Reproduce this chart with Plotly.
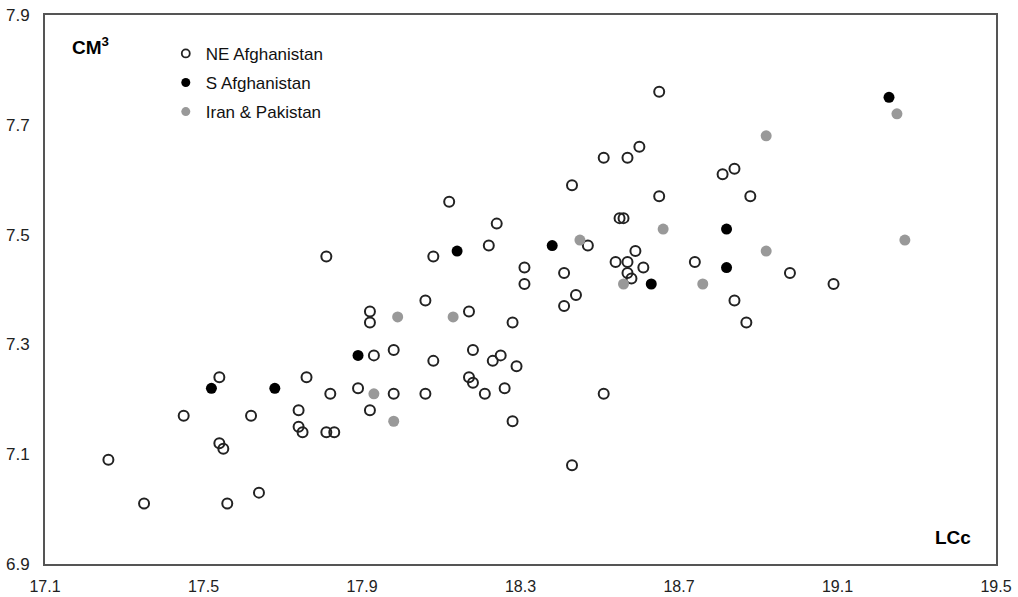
import plotly.graph_objects as go

# NE Afghanistan (open circles)
ne_x = [17.26, 17.35, 17.45, 17.54, 17.55, 17.56, 17.62, 17.64, 17.74, 17.74, 17.75, 17.81, 17.83,
        17.54, 17.76, 17.82, 17.81, 18.12, 18.24, 18.22, 18.08, 18.47, 18.55, 18.56, 18.65,
        18.31, 18.31, 18.41, 18.44, 18.41, 18.59, 18.54, 18.57, 18.61, 18.57, 18.58, 18.06,
        17.92, 17.92, 18.17, 18.28, 17.93, 17.98, 18.08, 18.18, 18.23, 18.25, 18.29, 18.17,
        18.18, 18.21, 18.26, 18.51, 17.89, 17.98, 18.06, 17.92, 18.28, 18.43, 18.65, 18.60,
        18.51, 18.57, 18.81, 18.84, 18.43, 18.88, 18.74, 18.98, 19.09, 18.84, 18.87]
ne_y = [7.09, 7.01, 7.17, 7.12, 7.11, 7.01, 7.17, 7.03, 7.18, 7.15, 7.14, 7.14, 7.14,
        7.24, 7.24, 7.21, 7.46, 7.56, 7.52, 7.48, 7.46, 7.48, 7.53, 7.53, 7.57,
        7.44, 7.41, 7.43, 7.39, 7.37, 7.47, 7.45, 7.45, 7.44, 7.43, 7.42, 7.38,
        7.36, 7.34, 7.36, 7.34, 7.28, 7.29, 7.27, 7.29, 7.27, 7.28, 7.26, 7.24,
        7.23, 7.21, 7.22, 7.21, 7.22, 7.21, 7.21, 7.18, 7.16, 7.08, 7.76, 7.66,
        7.64, 7.64, 7.61, 7.62, 7.59, 7.57, 7.45, 7.43, 7.41, 7.38, 7.34]

# S Afghanistan (black)
s_x = [17.52, 17.68, 17.89, 18.14, 18.38, 18.63, 18.82, 18.82, 19.23]
s_y = [7.22, 7.22, 7.28, 7.47, 7.48, 7.41, 7.51, 7.44, 7.75]

# Iran & Pakistan (grey)
ip_x = [17.93, 17.98, 17.99, 18.13, 18.45, 18.56, 18.66, 18.76, 18.92, 18.92, 19.25, 19.27]
ip_y = [7.21, 7.16, 7.35, 7.35, 7.49, 7.41, 7.51, 7.41, 7.68, 7.47, 7.72, 7.49]

x_ticks = [17.1, 17.5, 17.9, 18.3, 18.7, 19.1, 19.5]
y_ticks = [6.9, 7.1, 7.3, 7.5, 7.7, 7.9]

names = ["NE Afghanistan", "S Afghanistan", "Iran & Pakistan"]

FONT = "Arial, Liberation Sans, sans-serif"
GREY = "#999999"

fig = go.Figure()

fig.add_trace(go.Scatter(x=ne_x, y=ne_y, mode="markers", showlegend=False,
                         marker=dict(symbol="circle-open", size=10, color="#222222",
                                     line=dict(width=2, color="#222222"))))
fig.add_trace(go.Scatter(x=s_x, y=s_y, mode="markers", showlegend=False,
                         marker=dict(symbol="circle", size=11, color="#000000", line=dict(width=0))))
fig.add_trace(go.Scatter(x=ip_x, y=ip_y, mode="markers", showlegend=False,
                         marker=dict(symbol="circle", size=11, color=GREY, line=dict(width=0))))

# legend entries (smaller markers, as in the reference)
legend_styles = [
    dict(symbol="circle-open", size=8, color="#222222", line=dict(width=1.8, color="#222222")),
    dict(symbol="circle", size=9, color="#000000", line=dict(width=0)),
    dict(symbol="circle", size=9, color=GREY, line=dict(width=0)),
]
for i, (nm, mk) in enumerate(zip(names, legend_styles)):
    fig.add_trace(go.Scatter(x=[None], y=[None], mode="markers", name=nm, marker=mk,
                             legendgroup=f"g{i}", showlegend=True))

axis_common = dict(showline=True, linecolor="#555555", linewidth=2, mirror=True,
                   showgrid=False, zeroline=False, ticks="", automargin=False)

fig.update_layout(
    width=1018, height=597,
    margin=dict(l=45, r=22, t=15, b=33, autoexpand=False),
    paper_bgcolor="white", plot_bgcolor="white",
    xaxis=dict(range=[17.1, 19.5], tickvals=x_ticks, ticktext=[f"{v:.1f}" for v in x_ticks],
               ticklabelstandoff=7, tickfont=dict(family=FONT, size=16, color="#222222"),
               **axis_common),
    yaxis=dict(range=[6.9, 7.9], tickvals=y_ticks, ticktext=[f"{v:.1f}" for v in y_ticks],
               ticklabelstandoff=10, tickfont=dict(family=FONT, size=17, color="#222222"),
               **axis_common),
    legend=dict(x=0.127, y=0.962, xanchor="left", yanchor="top",
                bgcolor="rgba(0,0,0,0)", borderwidth=0,
                traceorder="grouped", tracegroupgap=4,
                font=dict(family=FONT, size=17, color="#111111")),
    annotations=[
        dict(text="<b>CM<sup>3</sup></b>", xref="paper", yref="paper", x=0.026, y=0.944,
             xanchor="left", yanchor="middle", showarrow=False,
             font=dict(family=FONT, size=19, color="#000000")),
        dict(text="<b>LCc</b>", xref="paper", yref="paper", x=0.976, y=0.049,
             xanchor="right", yanchor="middle", showarrow=False,
             font=dict(family=FONT, size=19, color="#000000")),
    ],
)

fig.write_html("out.html")
